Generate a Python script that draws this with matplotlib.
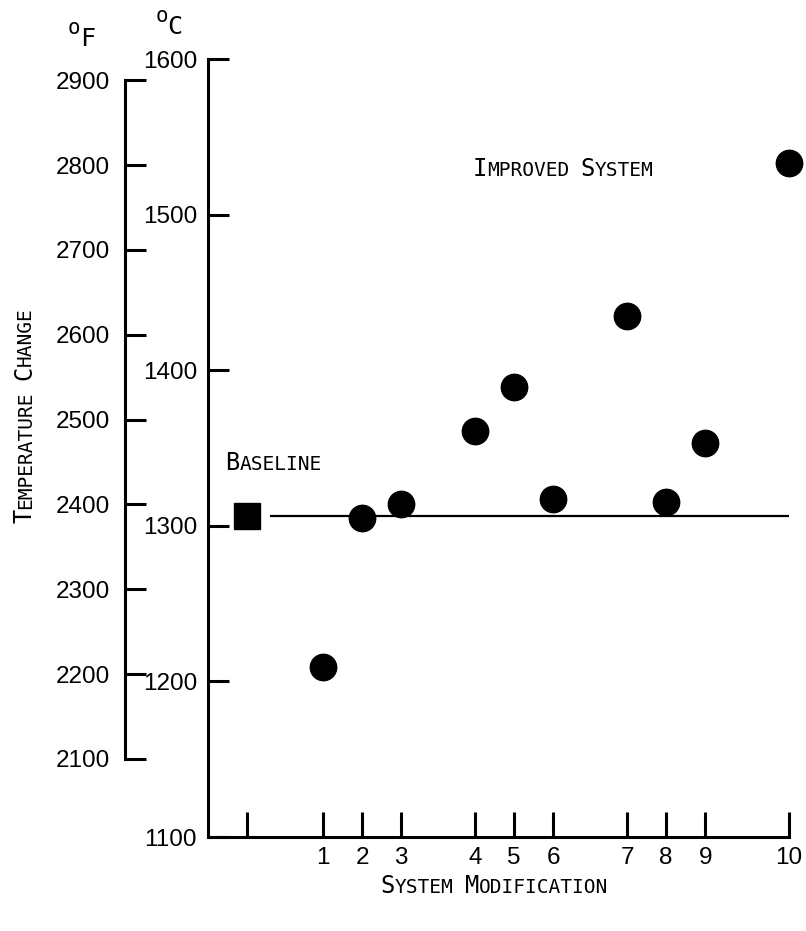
import matplotlib
matplotlib.use("Agg")
import matplotlib.pyplot as plt

# ---- data -------------------------------------------------------------
modification_labels = ["1", "2", "3", "4", "5", "6", "7", "8", "9", "10"]
modification_x = [1.95, 2.95, 3.95, 5.85, 6.85, 7.85, 9.75, 10.75, 11.75, 13.9]
modified_temp_c = [1209, 1305, 1314, 1361, 1389, 1317, 1435, 1315, 1353, 1533]
baseline_x = 0
baseline_temp_c = 1306
celsius_ticks = [1100, 1200, 1300, 1400, 1500, 1600]
fahrenheit_ticks = [2100, 2200, 2300, 2400, 2500, 2600, 2700, 2800, 2900]

# ---- styling -----------------------------------------------------------
W, H = 806, 931
NUM_FONT = ["Liberation Sans", "DejaVu Sans"]
NUM_SIZE = 17.5
CAP_FONT = ["DejaVu Sans Mono"]
MONO_ADV = 1233 / 2048          # advance width of DejaVu Sans Mono, in em
BIG, SMALL = 17, 14
LW = 2.2

fig = plt.figure(figsize=(W / 100, H / 100), dpi=100)


def px_rect(left, top, right, bottom):
    return [left / W, 1 - bottom / H, (right - left) / W, (bottom - top) / H]


def small_caps(ax, text, xy, coords, rotation=0, center=False):
    """Write text in small capitals: first letter of each word larger."""
    segs = []
    for i, word in enumerate(text.split(" ")):
        if i:
            segs.append((" ", SMALL))
        segs.append((word[0], BIG))
        if len(word) > 1:
            segs.append((word[1:], SMALL))
    total = sum(len(s) * size * MONO_ADV for s, size in segs)
    pos = -total / 2 if center else 0.0
    for s, size in segs:
        off = (pos, 0) if rotation == 0 else (0, pos)
        ax.annotate(s, xy=xy, xycoords=coords, xytext=off,
                    textcoords="offset points", ha="left", va="baseline",
                    rotation=rotation, rotation_mode="anchor",
                    fontsize=size, family=CAP_FONT, color="black",
                    annotation_clip=False)
        pos += len(s) * size * MONO_ADV


# ---- Celsius axis with the data ----------------------------------------
ax = fig.add_axes(px_rect(208, 59, 789, 837))
ax.set_xlim(-1, 13.9)
ax.set_ylim(1100, 1600)
for side in ("top", "right"):
    ax.spines[side].set_visible(False)
for side in ("left", "bottom"):
    ax.spines[side].set_linewidth(LW)
    ax.spines[side].set_capstyle("projecting")

ax.set_yticks(celsius_ticks)
ax.set_yticklabels([str(t) for t in celsius_ticks], family=NUM_FONT,
                   fontsize=NUM_SIZE)
ax.tick_params(axis="y", direction="in", length=15, width=LW, pad=8)
ax.set_xticks([baseline_x] + modification_x)
ax.set_xticklabels([""] + modification_labels, family=NUM_FONT,
                   fontsize=NUM_SIZE)
ax.tick_params(axis="x", direction="in", length=18, width=LW, pad=7)

# baseline reference line and markers
ax.plot([0.6, 13.9], [baseline_temp_c, baseline_temp_c], color="black",
        lw=1.6, solid_capstyle="butt", zorder=2)
ax.plot([baseline_x], [baseline_temp_c], marker="s", markersize=19,
        color="black", linestyle="none", zorder=3, clip_on=False)
ax.plot(modification_x, modified_temp_c, marker="o", markersize=19,
        color="black", linestyle="none", zorder=3, clip_on=False)

small_caps(ax, "BASELINE", (-0.56, 1336), "data")
small_caps(ax, "IMPROVED SYSTEM", (5.79, 1525), "data")
small_caps(ax, "SYSTEM MODIFICATION", (494 / W, 1 - 893 / H), "figure fraction",
           center=True)
small_caps(ax, "TEMPERATURE CHANGE", (31 / W, 1 - 523 / H), "figure fraction",
           rotation=90)

# ---- Fahrenheit axis ---------------------------------------------------
axf = fig.add_axes(px_rect(125, 59, 126, 837))
axf.set_ylim(2008, 2925)
axf.patch.set_visible(False)
for side in ("top", "right", "bottom"):
    axf.spines[side].set_visible(False)
axf.spines["left"].set_linewidth(LW)
axf.spines["left"].set_bounds(2100, 2900)
axf.spines["left"].set_capstyle("projecting")
axf.set_xticks([])
axf.set_yticks(fahrenheit_ticks)
axf.set_yticklabels([str(t) for t in fahrenheit_ticks], family=NUM_FONT,
                    fontsize=NUM_SIZE)
axf.tick_params(axis="y", direction="in", length=15, width=LW, pad=11)

# ---- unit headings -----------------------------------------------------
for sup_xy, letter, letter_xy in (((74, 28), "F", (80, 46)),
                                  ((162, 16), "C", (167, 34))):
    fig.text(sup_xy[0] / W, 1 - sup_xy[1] / H, "o", family=CAP_FONT,
             fontsize=15, ha="center", va="center")
    fig.text(letter_xy[0] / W, 1 - letter_xy[1] / H, letter, family=CAP_FONT,
             fontsize=18, ha="left", va="baseline")

fig.savefig("out.png", dpi=100, facecolor="white")
